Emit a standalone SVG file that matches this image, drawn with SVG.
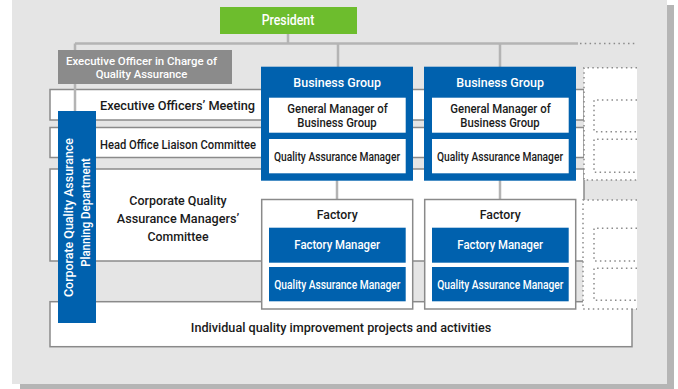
<svg xmlns="http://www.w3.org/2000/svg" width="678" height="389" viewBox="0 0 678 389">
<style>
.t{font-family:Roboto,"Liberation Sans",Arial,sans-serif;font-weight:500;text-anchor:middle;font-size:13.5px}
.g2{font-size:11.9px}
.w{fill:#ffffff}
.k{fill:#1a1a1a}
.row{fill:#ffffff;stroke:#8a8a8a;stroke-width:1.5}
.blue{fill:#0061ae}
.inner{fill:#ffffff}
.fac{fill:#ffffff;stroke:#8a8a8a;stroke-width:1.5}
.conn{stroke:#b4b4b4;stroke-width:2.5;fill:none}
.dot{stroke:#8a8a8a;stroke-width:1.5;stroke-dasharray:1.5 3.3;fill:none}
.dwhite{fill:#ffffff}
</style>
<rect x="20" y="5" width="654" height="384" fill="#b5b5b5"/>
<rect x="12" y="0" width="655" height="384" fill="#e5e5e5"/>

<g id="row-exec-meeting">
<rect class="row" x="50" y="89.5" width="534" height="30.5"/>
<text class="t k" x="177.5" y="110" textLength="155" lengthAdjust="spacingAndGlyphs">Executive Officers’ Meeting</text>
</g>
<g id="row-head-office">
<rect class="row" x="50" y="127.5" width="534" height="30"/>
<text class="t k" x="178" y="149.3" textLength="156" lengthAdjust="spacingAndGlyphs">Head Office Liaison Committee</text>
</g>
<g id="row-cqa-committee">
<rect class="row" x="50" y="169" width="534" height="92"/>
<text class="t k" x="178" y="205" textLength="97.4" lengthAdjust="spacingAndGlyphs">Corporate Quality</text>
<text class="t k" x="178" y="222.7" textLength="122.3" lengthAdjust="spacingAndGlyphs">Assurance Managers’</text>
<text class="t k" x="178" y="241" textLength="61" lengthAdjust="spacingAndGlyphs">Committee</text>
</g>
<g id="row-individual">
<rect class="row" x="50" y="301.7" width="582" height="45"/>
<text class="t k" x="341" y="331.7" textLength="300.3" lengthAdjust="spacingAndGlyphs">Individual quality improvement projects and activities</text>
</g>

<g id="dotted-upper">
<rect class="dwhite" x="584" y="67.7" width="53" height="112.3"/>
<path class="dot" d="M637 67.7H584V180H637"/>
<path class="dot" d="M637 100H594V131.7H637"/>
<path class="dot" d="M637 139.3H594V172.3H637"/>
</g>
<g id="dotted-lower">
<rect class="dwhite" x="583" y="200" width="54" height="109"/>
<path class="dot" d="M637 200H583V309H637"/>
<path class="dot" d="M637 228.3H594V261H637"/>
<path class="dot" d="M637 268.3H594V300.3H637"/>
</g>

<g id="connectors">
<path class="conn" d="M288 34V43.5M75 43.5H578M75 43.5V111M338 43.5V67M500 43.5V67M337 180V200M500 180V200"/>
<path class="dot" d="M580 43.5H636"/>
</g>

<g id="president">
<rect x="220" y="7" width="137" height="27" fill="#6dbd2d"/>
<text class="t w" x="288" y="24.5" style="font-size:14.5px" textLength="52.6" lengthAdjust="spacingAndGlyphs">President</text>
</g>
<g id="exec-officer-qa">
<rect x="58" y="50" width="174" height="34" fill="#8b8b8b"/>
<text class="t w" x="141.5" y="65" style="font-size:11.6px" textLength="151" lengthAdjust="spacingAndGlyphs">Executive Officer in Charge of</text>
<text class="t w" x="141.5" y="78.4" style="font-size:11.6px" textLength="91.6" lengthAdjust="spacingAndGlyphs">Quality Assurance</text>
</g>
<g id="cqa-planning-dept">
<rect class="blue" x="58" y="111" width="38" height="212"/>
<text class="t w" transform="translate(73,217.5) rotate(-90)" x="0" y="0" textLength="159" lengthAdjust="spacingAndGlyphs">Corporate Quality Assurance</text>
<text class="t w" transform="translate(89.5,212.5) rotate(-90)" x="0" y="0" textLength="108.7" lengthAdjust="spacingAndGlyphs">Planning Department</text>
</g>

<g id="business-group-1">
<rect class="blue" x="261" y="66.7" width="152" height="114"/>
<text class="t w" x="337.2" y="87" textLength="87.7" lengthAdjust="spacingAndGlyphs">Business Group</text>
<rect class="inner" x="269" y="97.7" width="136.7" height="35"/>
<text class="t k g2" x="337.5" y="113.1" textLength="100.4" lengthAdjust="spacingAndGlyphs">General Manager of</text>
<text class="t k g2" x="337" y="127.3" textLength="79.4" lengthAdjust="spacingAndGlyphs">Business Group</text>
<rect class="inner" x="269" y="139" width="136.7" height="34.3"/>
<text class="t k" x="337" y="160.5" textLength="126" lengthAdjust="spacingAndGlyphs">Quality Assurance Manager</text>
</g>
<g id="business-group-2">
<rect class="blue" x="424" y="66.7" width="152" height="114"/>
<text class="t w" x="500.2" y="87" textLength="87.7" lengthAdjust="spacingAndGlyphs">Business Group</text>
<rect class="inner" x="432" y="97.7" width="136.7" height="35"/>
<text class="t k g2" x="500.5" y="113.1" textLength="100.4" lengthAdjust="spacingAndGlyphs">General Manager of</text>
<text class="t k g2" x="500" y="127.3" textLength="79.4" lengthAdjust="spacingAndGlyphs">Business Group</text>
<rect class="inner" x="432" y="139" width="136.7" height="34.3"/>
<text class="t k" x="500" y="160.5" textLength="126" lengthAdjust="spacingAndGlyphs">Quality Assurance Manager</text>
</g>

<g id="factory-1">
<rect class="fac" x="261.7" y="199.5" width="151" height="109.5"/>
<text class="t k" x="337.2" y="219.3" textLength="41" lengthAdjust="spacingAndGlyphs">Factory</text>
<rect class="blue" x="269" y="227.7" width="136.7" height="35"/>
<text class="t w" x="337.2" y="249" textLength="85.7" lengthAdjust="spacingAndGlyphs">Factory Manager</text>
<rect class="blue" x="269" y="267" width="136.7" height="34.3"/>
<text class="t w" x="337.3" y="289.3" textLength="126" lengthAdjust="spacingAndGlyphs">Quality Assurance Manager</text>
</g>
<g id="factory-2">
<rect class="fac" x="424.7" y="199.5" width="151" height="109.5"/>
<text class="t k" x="500.2" y="219.3" textLength="41" lengthAdjust="spacingAndGlyphs">Factory</text>
<rect class="blue" x="432" y="227.7" width="136.7" height="35"/>
<text class="t w" x="500.2" y="249" textLength="85.7" lengthAdjust="spacingAndGlyphs">Factory Manager</text>
<rect class="blue" x="432" y="267" width="136.7" height="34.3"/>
<text class="t w" x="500.3" y="289.3" textLength="126" lengthAdjust="spacingAndGlyphs">Quality Assurance Manager</text>
</g>
</svg>
